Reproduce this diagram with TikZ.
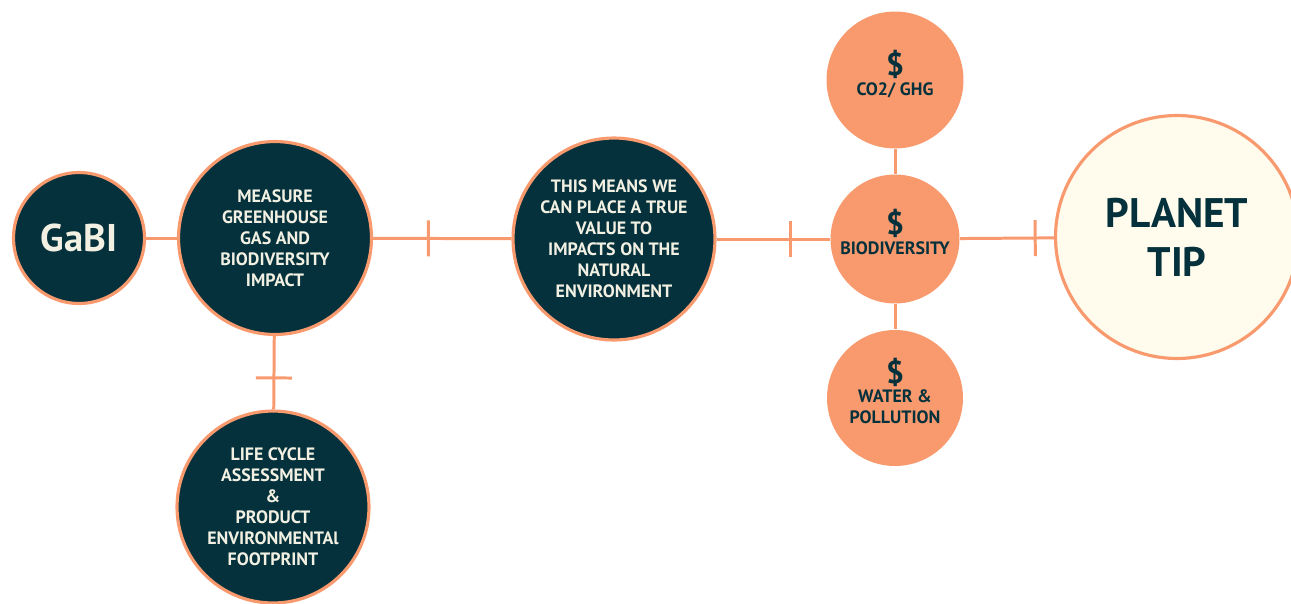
\documentclass[tikz,border=0pt]{standalone}
\usepackage{fontspec}
\setmainfont{PT Sans}
\usetikzlibrary{backgrounds}
\definecolor{deepteal}{RGB}{4,49,59}
\definecolor{peach}{RGB}{248,154,110}
\definecolor{ivory}{RGB}{255,252,238}
\definecolor{chalk}{RGB}{242,240,226}
\newcommand{\capsfont}{\bfseries\fontsize{10.2}{12}\selectfont}
\newcommand{\dollar}{{\fontsize{18}{18}\selectfont\$}}
\newcommand{\lift}{\rule[-8pt]{0pt}{0pt}}

\begin{document}
\begin{tikzpicture}[x=0.02cm,y=-0.02cm,thick]
        %
        % `bubble' is used for the dark text circles.
        % `coin' is used for the orange value circles.
        % `cross' is the short bar across a link.
        \tikzstyle{bubble} = [circle,draw=peach,fill=deepteal,line width=1.8pt,text=chalk,inner sep=0pt,align=center,font=\capsfont]
        \tikzstyle{coin} = [circle,fill=peach,text=deepteal,inner sep=0pt,align=center,font=\capsfont]
        \tikzstyle{goal} = [circle,draw=peach,fill=ivory,line width=1.8pt,text=deepteal,inner sep=0pt,align=center]
        \tikzstyle{link} = [draw=peach,line width=1.7pt]
        \tikzstyle{cross} = [fill=peach,sloped,inner sep=0pt,minimum width=1.7pt,minimum height=0.72cm]
        \tikzstyle{ghost} = [text=white,align=center,font=\bfseries\fontsize{12.5}{17.6}\selectfont]
        %
        \useasboundingbox (0,0) rectangle (1291,603);
        %
        % Left column
        \node[bubble,minimum size=2.62cm,font=\bfseries\fontsize{22}{24}\selectfont] (gabi) at (79,238) {GaBI};
        \node[bubble,minimum size=3.86cm] (measure) at (275,238) {MEASURE\\GREENHOUSE\\GAS AND\\BIODIVERSITY\\IMPACT};
        \node[bubble,minimum size=3.84cm] (lca) at (273,507) {LIFE CYCLE\\ASSESSMENT\\\&\\PRODUCT\\ENVIRONMENTAl\\FOOTPRINT};
        %
        % Middle
        \node[bubble,minimum size=4.04cm] (means) at (614,239) {THIS MEANS WE\\CAN PLACE A TRUE\\VALUE TO\\IMPACTS ON THE\\NATURAL\\ENVIRONMENT};
        %
        % Value circles
        \node[coin,minimum size=2.58cm] (bio) at (895,239) {\dollar\\[-1pt]BIODIVERSITY\lift};
        \node[coin,minimum size=2.74cm] (co2) at (895,80) {\dollar\\[-1pt]CO2/ GHG\lift};
        \node[coin,minimum size=2.72cm] (water) at (895,398) {\dollar\\[-1pt]WATER \&\\POLLUTION\lift};
        %
        % Goal
        \node[goal,minimum size=4.86cm,font=\bfseries\fontsize{23.5}{28}\selectfont] (planet) at (1177,237) {PLANET\\TIP};
        \node[ghost] (fund) at (1173,66) {SUSTAINABILITY\\FUND};
        \node[ghost] (local) at (1173,436) {FUNDING LOCAL\\\&\\GLOBAL\\SUSTAINABILITY};
        %
        % Links
        \begin{pgfonlayer}{background}
        \draw[link] (gabi) -- (measure);
        \draw[link] (measure) -- node[cross,pos=0.4] {} (means);
        \draw[link] (measure) -- node[cross,pos=0.57] {} (lca);
        \draw[link] (means) -- node[cross,pos=0.65] {} (bio);
        \draw[link] (bio) -- node[cross,pos=0.8] {} (planet);
        \draw[link] (bio) -- (co2);
        \draw[link] (bio) -- (water);
        \end{pgfonlayer}
        %
\end{tikzpicture}
\end{document}
